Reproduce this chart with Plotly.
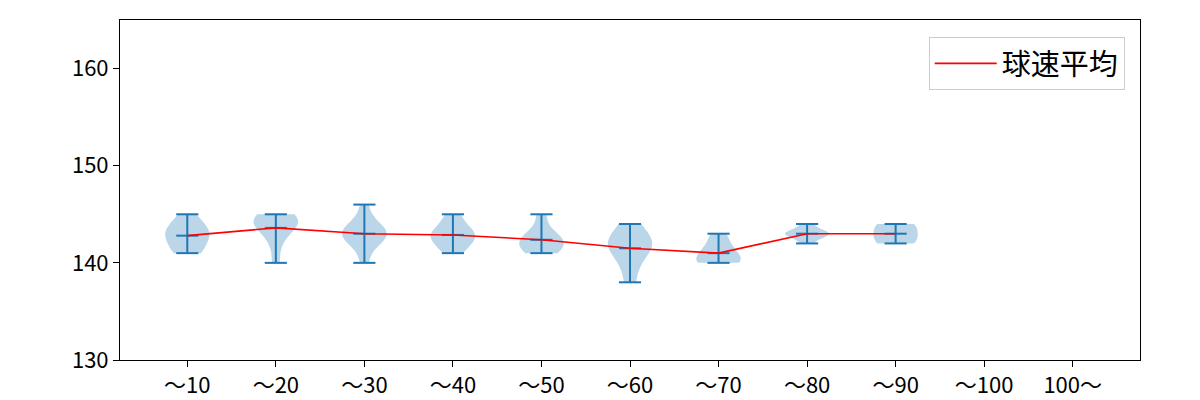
import plotly.graph_objects as go
import numpy as np

categories = ["～10", "～20", "～30", "～40", "～50", "～60", "～70", "～80", "～90", "～100", "100～"]
samples = [
    [141, 141, 142, 142, 143, 143, 143, 144, 144, 145],
    [140, 142, 143, 144, 144, 144, 144, 145, 145, 145],
    [140, 142, 142, 143, 143, 143, 143, 144, 144, 146],
    [141, 142, 142, 143, 143, 143, 144, 145],
    [141, 141, 142, 142, 142, 143, 143, 145],
    [138, 140, 141, 142, 142, 142, 143, 144],
    [140, 140, 140, 141, 141, 142, 143],
    [142, 143, 143, 143, 143, 144],
    [142, 142, 143, 143, 144, 144],
    [],
    [],
]
y_ticks = [130, 140, 150, 160]

positions = list(range(1, len(categories) + 1))
fig = go.Figure()

blue = "#1f77b4"
fill = "rgba(31,119,180,0.3)"

for pos, s in zip(positions, samples):
    if not s:
        continue
    arr = np.array(s, dtype=float)
    bw = arr.std(ddof=1) * len(arr) ** (-0.2)  # Scott's rule, as matplotlib
    fig.add_trace(go.Violin(
        y=s, x0=pos, width=0.5, spanmode="hard", points=False, bandwidth=bw,
        fillcolor=fill, line=dict(width=0, color=fill),
        box_visible=False, meanline_visible=False, showlegend=False,
        hoverinfo="skip", scalemode="width",
    ))

# extrema / mean bars
xs, ys = [], []
cap = 0.125
means_x, means_y = [], []
for pos, s in zip(positions, samples):
    if not s:
        continue
    lo, hi = min(s), max(s)
    m = sum(s) / len(s)
    means_x.append(pos)
    means_y.append(m)
    xs += [pos, pos, None]
    ys += [lo, hi, None]
    for v in (lo, hi, m):
        xs += [pos - cap, pos + cap, None]
        ys += [v, v, None]

fig.add_trace(go.Scatter(x=xs, y=ys, mode="lines", line=dict(color=blue, width=2),
                         showlegend=False, hoverinfo="skip"))
fig.add_trace(go.Scatter(x=means_x, y=means_y, mode="lines", line=dict(color="red", width=1.6),
                         name="球速平均"))

font = "Noto Sans CJK JP"
fig.update_layout(
    width=1200, height=400,
    margin=dict(l=120, r=60, t=20, b=40),
    plot_bgcolor="white", paper_bgcolor="white",
    font=dict(family=font, size=22, color="black"),
    violinmode="overlay",
    legend=dict(x=0.985, y=0.95, xanchor="right", yanchor="top",
                bordercolor="#cccccc", borderwidth=1, bgcolor="white",
                itemwidth=62, entrywidth=222,
                font=dict(size=29, family=font)),
    xaxis=dict(range=[0.24, 11.76], tickmode="array", tickvals=positions, ticktext=categories,
               showgrid=False, zeroline=False, showline=True, linecolor="black", linewidth=1,
               mirror=True, ticks="outside", ticklen=6, tickcolor="black",
               tickfont=dict(size=22), automargin=False),
    yaxis=dict(range=[130, 165], tickmode="array", tickvals=y_ticks,
               showgrid=False, zeroline=False, showline=True, linecolor="black", linewidth=1,
               mirror=True, ticks="outside", ticklen=6, tickcolor="black",
               tickfont=dict(size=22), automargin=False),
)

fig.write_html("out.html")
